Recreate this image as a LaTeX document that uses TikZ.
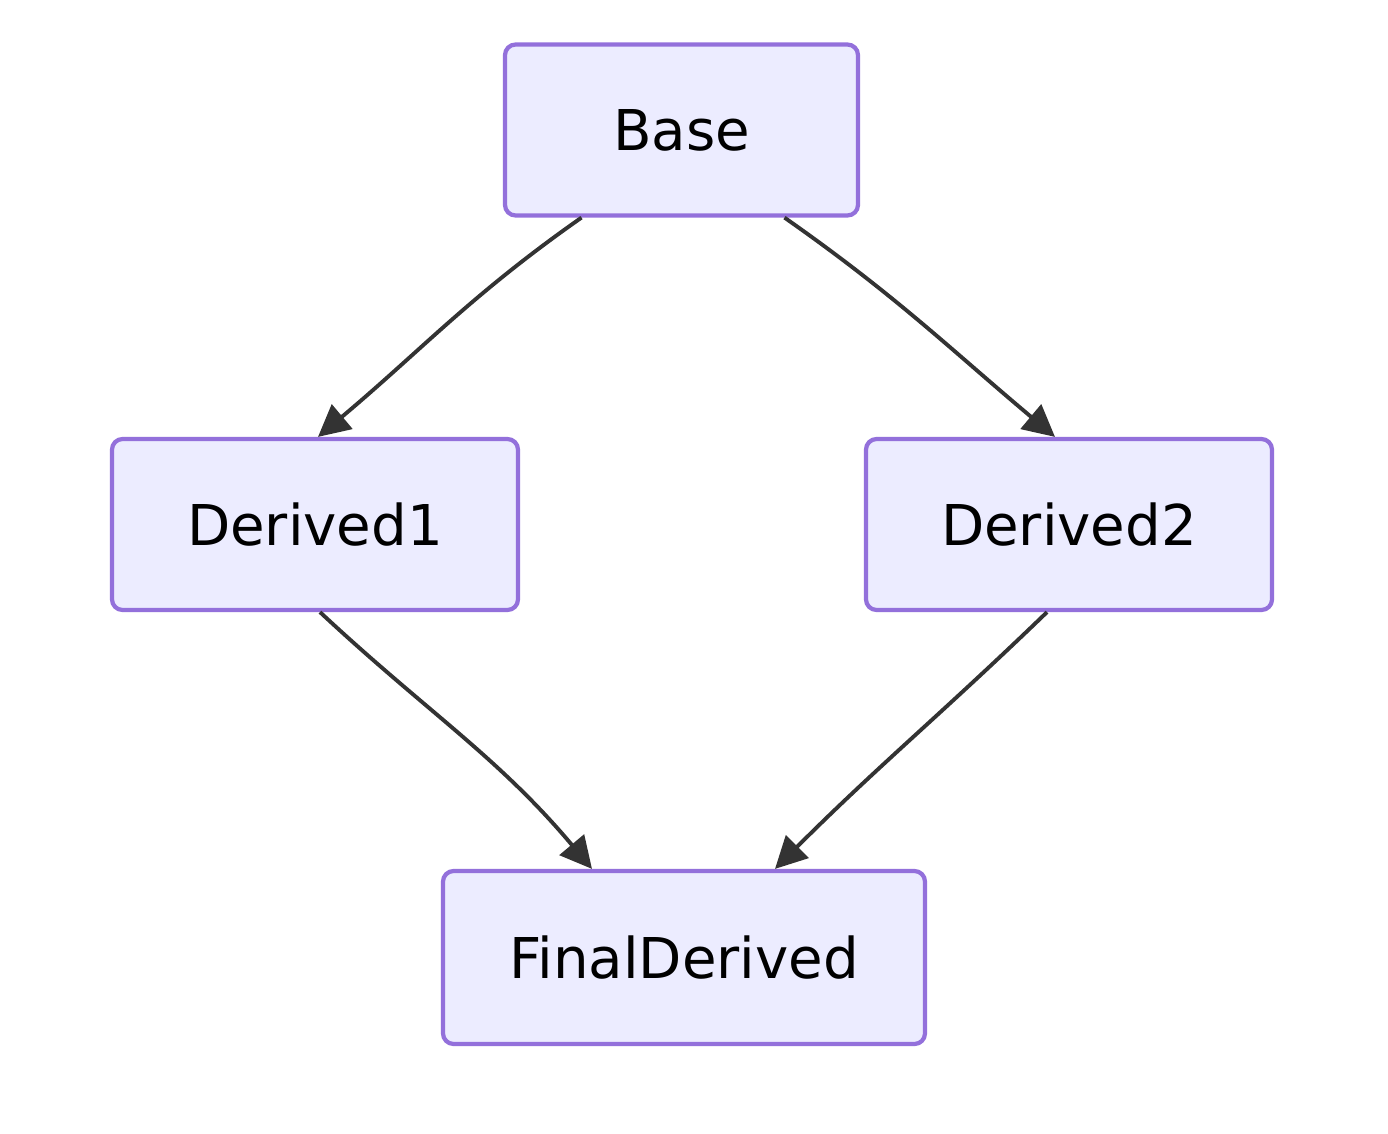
\documentclass[tikz,border=0pt]{standalone}
\usepackage{fontspec}
\setmainfont{DejaVu Sans}
\usetikzlibrary{positioning, arrows.meta}
\definecolor{boxfill}{HTML}{ECECFF}
\definecolor{boxline}{HTML}{9370DB}
\definecolor{edgeline}{HTML}{333333}
\begin{document}
\begin{tikzpicture}[
    cls/.style={draw=boxline, fill=boxfill, line width=1.2pt, rounded corners=3pt,
                minimum height=1.71cm, font=\fontsize{16}{19}\selectfont},
    inherit/.style={draw=edgeline, line width=1.1pt, -{Triangle[length=9pt, width=9pt]}}]
    \useasboundingbox (0,0) rectangle (13.88,11.33);
    \node[cls, minimum width=3.53cm] (base) at (6.815,10.03) {Base};
    \node[cls, minimum width=4.06cm] (derived1) at (3.15,6.085) {Derived1};
    \node[cls, minimum width=4.06cm] (derived2) at (10.69,6.085) {Derived2};
    \node[cls, minimum width=4.82cm, minimum height=1.73cm] (final) at (6.84,1.755) {FinalDerived};
    \draw[inherit] ([xshift=-1cm]base.south) to[out=-145, in=40] ([xshift=0.03cm]derived1.north);
    \draw[inherit] ([xshift=1.03cm]base.south) to[out=-35, in=140] ([xshift=-0.14cm]derived2.north);
    \draw[inherit] ([xshift=0.05cm]derived1.south) to[out=-43, in=130] ([xshift=-0.92cm]final.north);
    \draw[inherit] ([xshift=-0.22cm]derived2.south) to[out=-136, in=45] ([xshift=0.91cm]final.north);
\end{tikzpicture}
\end{document}
